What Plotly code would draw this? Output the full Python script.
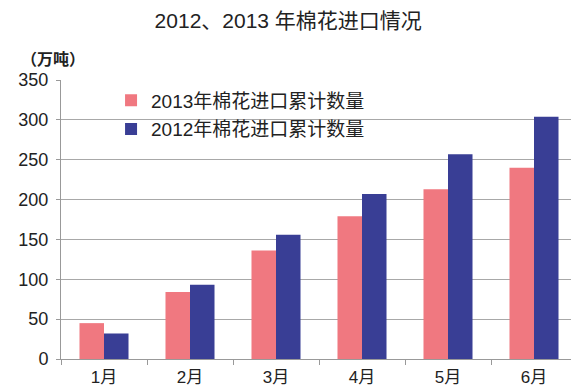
import plotly.graph_objects as go

months = ["1月", "2月", "3月", "4月", "5月", "6月"]
imports_2013 = [45, 84, 136, 179, 213, 240]
imports_2012 = [32, 93, 156, 207, 257, 304]
series_names = ["2013年棉花进口累计数量", "2012年棉花进口累计数量"]
title_text = "2012、2013 年棉花进口情况"
unit_text = "（万吨）"

FONT = "Liberation Sans, Arial, Noto Sans CJK SC"

fig = go.Figure()
fig.add_trace(go.Bar(x=months, y=imports_2013, name=series_names[0],
                     marker=dict(color="#F07880", line=dict(width=0)),
                     legendgroup="a"))
fig.add_trace(go.Bar(x=months, y=imports_2012, name=series_names[1],
                     marker=dict(color="#393E95", line=dict(width=0)),
                     legendgroup="b"))

# page body has an 8px default margin, so margins compensate
fig.update_layout(
    width=579, height=389,
    margin=dict(l=42, r=10, t=72, b=38),
    paper_bgcolor="white", plot_bgcolor="white",
    font=dict(family=FONT, color="#222222"),
    barmode="group", bargap=0.43, bargroupgap=0,
    title=dict(text=title_text, x=0.484, xanchor="center", y=0.968, yanchor="middle",
               font=dict(size=21, family=FONT, color="#222222")),
    showlegend=True,
    legend=dict(x=0.097, y=0.995, xanchor="left", yanchor="top",
                bgcolor="rgba(0,0,0,0)", font=dict(size=19, family=FONT, color="#222222"),
                traceorder="grouped", tracegroupgap=1, itemwidth=30),
    annotations=[dict(text=unit_text, xref="paper", yref="paper", x=-0.082, y=1.078,
                      xanchor="left", yanchor="middle", showarrow=False,
                      font=dict(size=16, family="Noto Sans CJK SC", color="#222222", weight="bold"))],
)
fig.update_yaxes(range=[0, 350], dtick=50, showgrid=True, gridcolor="#A8A8A8", gridwidth=1,
                 showline=True, linecolor="#999999", linewidth=1, ticks="outside",
                 ticklen=4, tickcolor="#999999", zeroline=False, ticklabelstandoff=4,
                 tickfont=dict(size=18, family=FONT, color="#222222"))
fig.update_xaxes(showline=True, linecolor="#999999", linewidth=1, ticks="outside",
                 tickson="boundaries", ticklen=5, tickcolor="#999999", ticklabelstandoff=3,
                 tickfont=dict(size=17, family=FONT, color="#222222"))

fig.write_html("out.html")
